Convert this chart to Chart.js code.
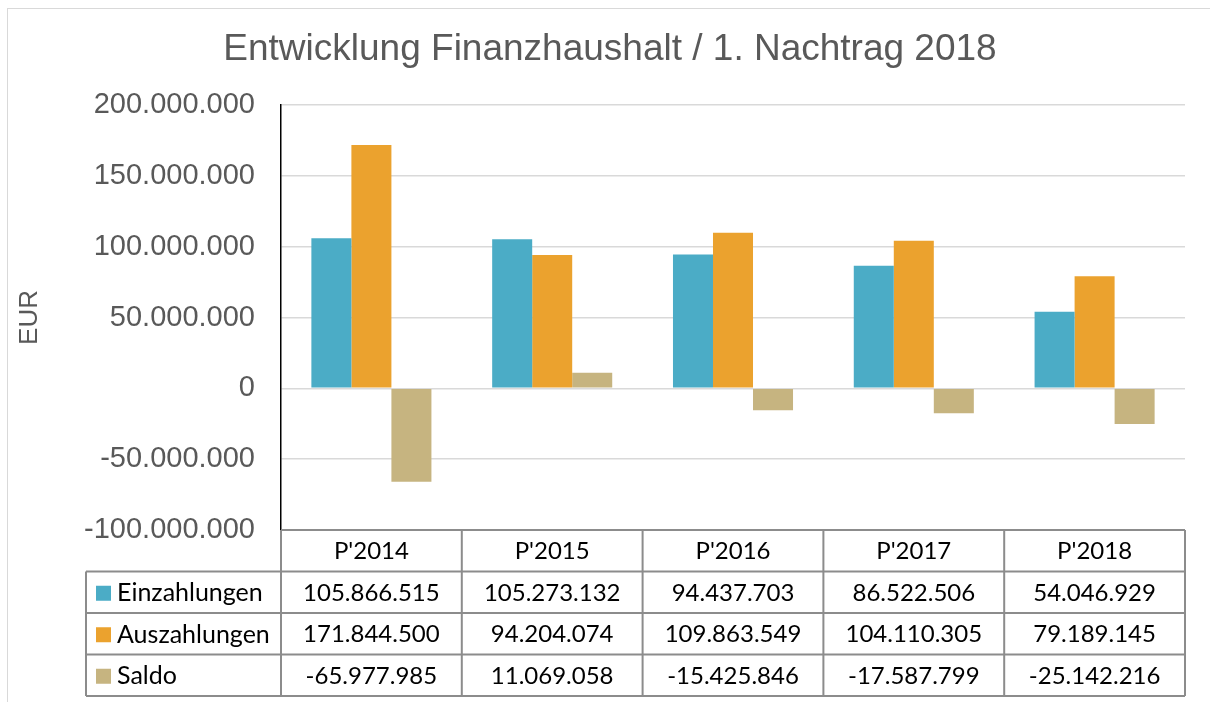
<!DOCTYPE html>
<html>
<head>
<meta charset="utf-8">
<script src="https://cdn.jsdelivr.net/npm/chart.js@4"></script>
<style>
  html, body { margin: 0; padding: 0; background: #fff; }
  #wrap { position: relative; width: 1210px; height: 702px; }
  #frame { position: absolute; left: 7px; top: 8px; width: 1220px; height: 720px; border: 1px solid #d9d9d9; box-sizing: border-box; }
  canvas { position: absolute; left: 0; top: 0; }
</style>
</head>
<body>
<div id="wrap">
  <div id="frame"></div>
  <canvas id="chart" width="1210" height="702"></canvas>
</div>
<script>
// Data
const categories = ["P'2014", "P'2015", "P'2016", "P'2017", "P'2018"];
const einzahlungen = [105866515, 105273132, 94437703, 86522506, 54046929];
const auszahlungen = [171844500, 94204074, 109863549, 104110305, 79189145];
const saldo = [-65977985, 11069058, -15425846, -17587799, -25142216];
const seriesNames = ['Einzahlungen', 'Auszahlungen', 'Saldo'];
const seriesColors = ['#4bacc6', '#eba22e', '#c6b480'];

// 1.234.567 style
function fmt(v) {
  const s = String(Math.abs(Math.round(v))).replace(/\B(?=(\d{3})+(?!\d))/g, '.');
  return (v < 0 ? '-' : '') + s;
}

// Data table under the plot, columns follow the x scale
const tablePlugin = {
  id: 'dataTable',
  afterDraw(chart) {
    const ctx = chart.ctx;
    const area = chart.chartArea;
    const x = chart.scales.x;
    const colW = (area.right - area.left) / categories.length;
    const rowH = 41.5;
    const top = area.bottom;
    const legendLeft = 86;
    const rows = [einzahlungen, auszahlungen, saldo];

    ctx.save();
    ctx.fillStyle = '#000';
    ctx.textBaseline = 'middle';

    // header labels
    ctx.font = '24px Lato';
    ctx.textAlign = 'center';
    categories.forEach((c, i) => {
      ctx.fillText(c, x.getPixelForValue(i), top + rowH / 2 + 1);
    });

    // rows
    rows.forEach((vals, r) => {
      const cy = top + rowH * (r + 1) + rowH / 2 + 1;
      ctx.font = '24px Lato';
      ctx.textAlign = 'center';
      vals.forEach((v, i) => {
        ctx.fillText(fmt(v), x.getPixelForValue(i), cy);
      });
      ctx.fillStyle = seriesColors[r];
      ctx.fillRect(legendLeft + 10, cy - 7.5, 15, 15);
      ctx.fillStyle = '#000';
      ctx.font = '25px Lato';
      ctx.textAlign = 'left';
      ctx.fillText(seriesNames[r], legendLeft + 31, cy);
    });

    // grid lines of the table
    ctx.strokeStyle = '#8c8c8c';
    ctx.lineWidth = 2;
    ctx.beginPath();
    ctx.moveTo(area.left, top);
    ctx.lineTo(area.right, top);
    for (let r = 1; r <= 4; r++) {
      ctx.moveTo(legendLeft, top + rowH * r);
      ctx.lineTo(area.right, top + rowH * r);
    }
    for (let i = 0; i <= categories.length; i++) {
      const cx = area.left + colW * i;
      ctx.moveTo(cx, top);
      ctx.lineTo(cx, top + rowH * 4);
    }
    ctx.moveTo(legendLeft, top + rowH);
    ctx.lineTo(legendLeft, top + rowH * 4);
    ctx.stroke();
    ctx.restore();
  }
};

const ctx = document.getElementById('chart').getContext('2d');
const chart = new Chart(ctx, {
  type: 'bar',
  data: {
    labels: categories,
    datasets: [
      { label: seriesNames[0], data: einzahlungen, backgroundColor: seriesColors[0] },
      { label: seriesNames[1], data: auszahlungen, backgroundColor: seriesColors[1] },
      { label: seriesNames[2], data: saldo, backgroundColor: seriesColors[2] },
    ]
  },
  options: {
    responsive: false,
    animation: false,
    layout: { padding: { left: 10, right: 0, top: 0, bottom: 172 } },
    datasets: { bar: { categoryPercentage: 0.664, barPercentage: 1 } },
    plugins: {
      legend: { display: false },
      tooltip: { enabled: false },
      title: {
        display: true,
        text: 'Entwicklung Finanzhaushalt / 1. Nachtrag 2018',
        color: '#595959',
        font: { family: 'Liberation Sans', size: 37, weight: 'normal', lineHeight: 1.2 },
        padding: { top: 28, bottom: 32.6 }
      }
    },
    scales: {
      x: { display: false },
      y: {
        min: -100000000,
        max: 200000000,
        afterFit(scale) { scale.width = 271; },
        ticks: {
          stepSize: 50000000,
          padding: 26,
          color: '#595959',
          font: { family: 'Liberation Sans', size: 29 },
          callback: v => fmt(v)
        },
        grid: { color: '#d9d9d9', lineWidth: 1.5, drawTicks: false },
        border: { color: '#000', width: 1.5 },
        title: {
          display: true,
          text: 'EUR',
          color: '#595959',
          font: { family: 'Liberation Sans', size: 26 },
          padding: { top: 4.5 }
        }
      },
      // empty right axis, only keeps the plot off the right edge
      y2: {
        position: 'right',
        display: true,
        afterFit(scale) { scale.width = 25; },
        ticks: { display: false },
        grid: { display: false },
        border: { display: false }
      }
    }
  },
  plugins: [tablePlugin]
});
</script>
</body>
</html>
